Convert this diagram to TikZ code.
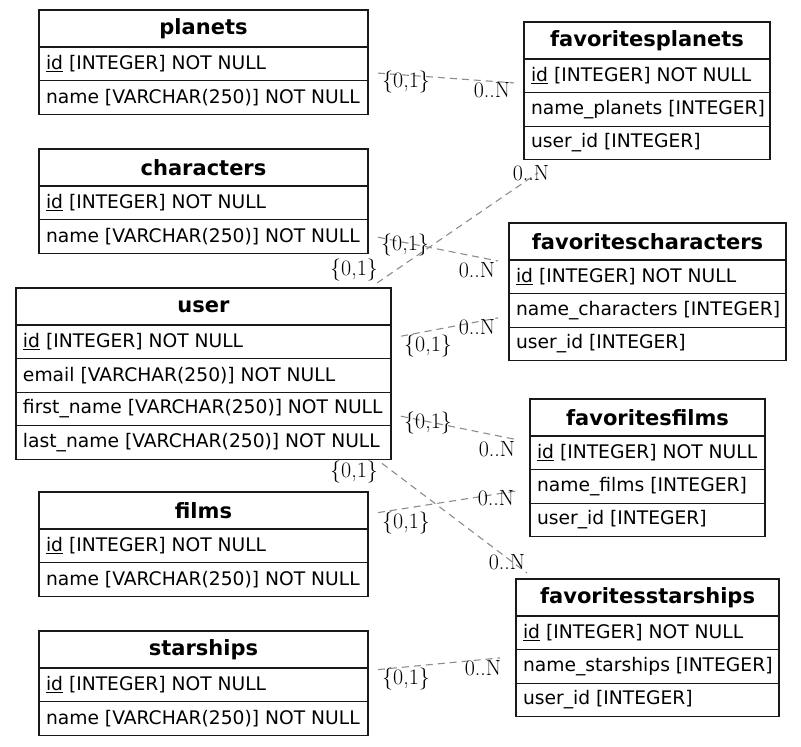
\documentclass[tikz,border=0pt]{standalone}
\usepackage{fontspec}
\newfontfamily\tblfont{DejaVu Sans}
\usetikzlibrary{calc}

\tikzset{
  x=1pt, y=-1pt,
  tbl/.style={draw=black!90, line width=1.3pt, inner sep=0pt, outer sep=0pt},
  tblframe/.style={tbl},
  tblhead/.style={tbl, minimum height=37pt,
    font=\tblfont\fontsize{21}{24}\selectfont\bfseries},
  tblrow/.style={tbl, minimum height=33.6pt, inner xsep=7pt,
    font=\tblfont\fontsize{18.7}{22}\selectfont},
  rel/.style={draw=gray!90, dash pattern=on 7pt off 5pt, line width=1.1pt},
  card/.style={font=\fontsize{22}{24}\selectfont, inner sep=0pt},
}

% \ertable{name}{left}{top}{width}{rows}{title}{row list}
\newcommand\ertable[7]{%
  \pgfmathsetmacro\erw{#4-14}%
  \pgfmathsetmacro\erh{37+#5*33.6}%
  \node[tblframe, anchor=north west, minimum width=#4pt, minimum height=\erh pt] (#1) at (#2,#3) {};
  \node[tblhead, anchor=north west, minimum width=#4pt] (#1-h) at (#2,#3)
    {\makebox[\erw pt][c]{#6}};
  \foreach \r [count=\i] in {#7} {
    \node[tblrow, anchor=north west, minimum width=#4pt]
      (#1-\i) at (#2,{#3+37+(\i-1)*33.6}) {\makebox[\erw pt][l]{\r}};
  }%
}

\begin{document}
\begin{tikzpicture}
\useasboundingbox (0,0) rectangle (801,747);

% entity tables
\ertable{planets}{39}{10}{329}{2}{planets}
  {\underline{id} [INTEGER] NOT NULL, name [VARCHAR(250)] NOT NULL}
\ertable{characters}{39}{149}{329}{2}{characters}
  {\underline{id} [INTEGER] NOT NULL, name [VARCHAR(250)] NOT NULL}
\ertable{user}{16}{288}{375}{4}{user}
  {\underline{id} [INTEGER] NOT NULL, email [VARCHAR(250)] NOT NULL,
   first\_name [VARCHAR(250)] NOT NULL, last\_name [VARCHAR(250)] NOT NULL}
\ertable{films}{39}{492}{329}{2}{films}
  {\underline{id} [INTEGER] NOT NULL, name [VARCHAR(250)] NOT NULL}
\ertable{starships}{39}{631}{329}{2}{starships}
  {\underline{id} [INTEGER] NOT NULL, name [VARCHAR(250)] NOT NULL}

% association tables
\ertable{fplanets}{524}{22}{246}{3}{favoritesplanets}
  {\underline{id} [INTEGER] NOT NULL, name\_planets [INTEGER], user\_id [INTEGER]}
\ertable{fchars}{509}{223}{277}{3}{favoritescharacters}
  {\underline{id} [INTEGER] NOT NULL, name\_characters [INTEGER], user\_id [INTEGER]}
\ertable{ffilms}{530}{399}{235}{3}{favoritesfilms}
  {\underline{id} [INTEGER] NOT NULL, name\_films [INTEGER], user\_id [INTEGER]}
\ertable{fstarships}{516}{579}{263}{3}{favoritesstarships}
  {\underline{id} [INTEGER] NOT NULL, name\_starships [INTEGER], user\_id [INTEGER]}

% relationships
\draw[rel] ([shift={(10,11)}]planets.east) -- ([shift={(-10,-8)}]fplanets.west);
\draw[rel] ([shift={(-14,-5)}]user.north east) -- ([shift={(14,13)}]fplanets.south west);
\draw[rel] ([shift={(10,-16)}]characters.south east) -- ([shift={(-11,38)}]fchars.north west);
\draw[rel] ([shift={(10,-37.5)}]user.east) -- ([shift={(-11,26)}]fchars.west);
\draw[rel] ([shift={(10,42.5)}]user.east) -- ([shift={(-12,-28)}]ffilms.west);
\draw[rel] ([shift={(-9,4)}]user.south east) -- ([shift={(11,-6)}]fstarships.north west);
\draw[rel] ([shift={(10,-31.5)}]films.east) -- ([shift={(-13,23)}]ffilms.west);
\draw[rel] ([shift={(10,-13.5)}]starships.east) -- ([shift={(-16,10)}]fstarships.west);

% cardinalities
\node[card] (k1a) at (406,82)  {\{0,1\}};
\node[card] (k1b) at (492,90)  {0..N};
\node[card] (k2a) at (354,270) {\{0,1\}};
\node[card] (k2b) at (531,173) {0..N};
\node[card] (k3a) at (405,245) {\{0,1\}};
\node[card] (k3b) at (477,270) {0..N};
\node[card] (k4a) at (428,346) {\{0,1\}};
\node[card] (k4b) at (477,327) {0..N};
\node[card] (k5a) at (428,423) {\{0,1\}};
\node[card] (k5b) at (497,449) {0..N};
\node[card] (k6a) at (406,523) {\{0,1\}};
\node[card] (k6b) at (496,498) {0..N};
\node[card] (k7a) at (354,472) {\{0,1\}};
\node[card] (k7b) at (507,562) {0..N};
\node[card] (k8a) at (406,679) {\{0,1\}};
\node[card] (k8b) at (483,668) {0..N};
\end{tikzpicture}
\end{document}
